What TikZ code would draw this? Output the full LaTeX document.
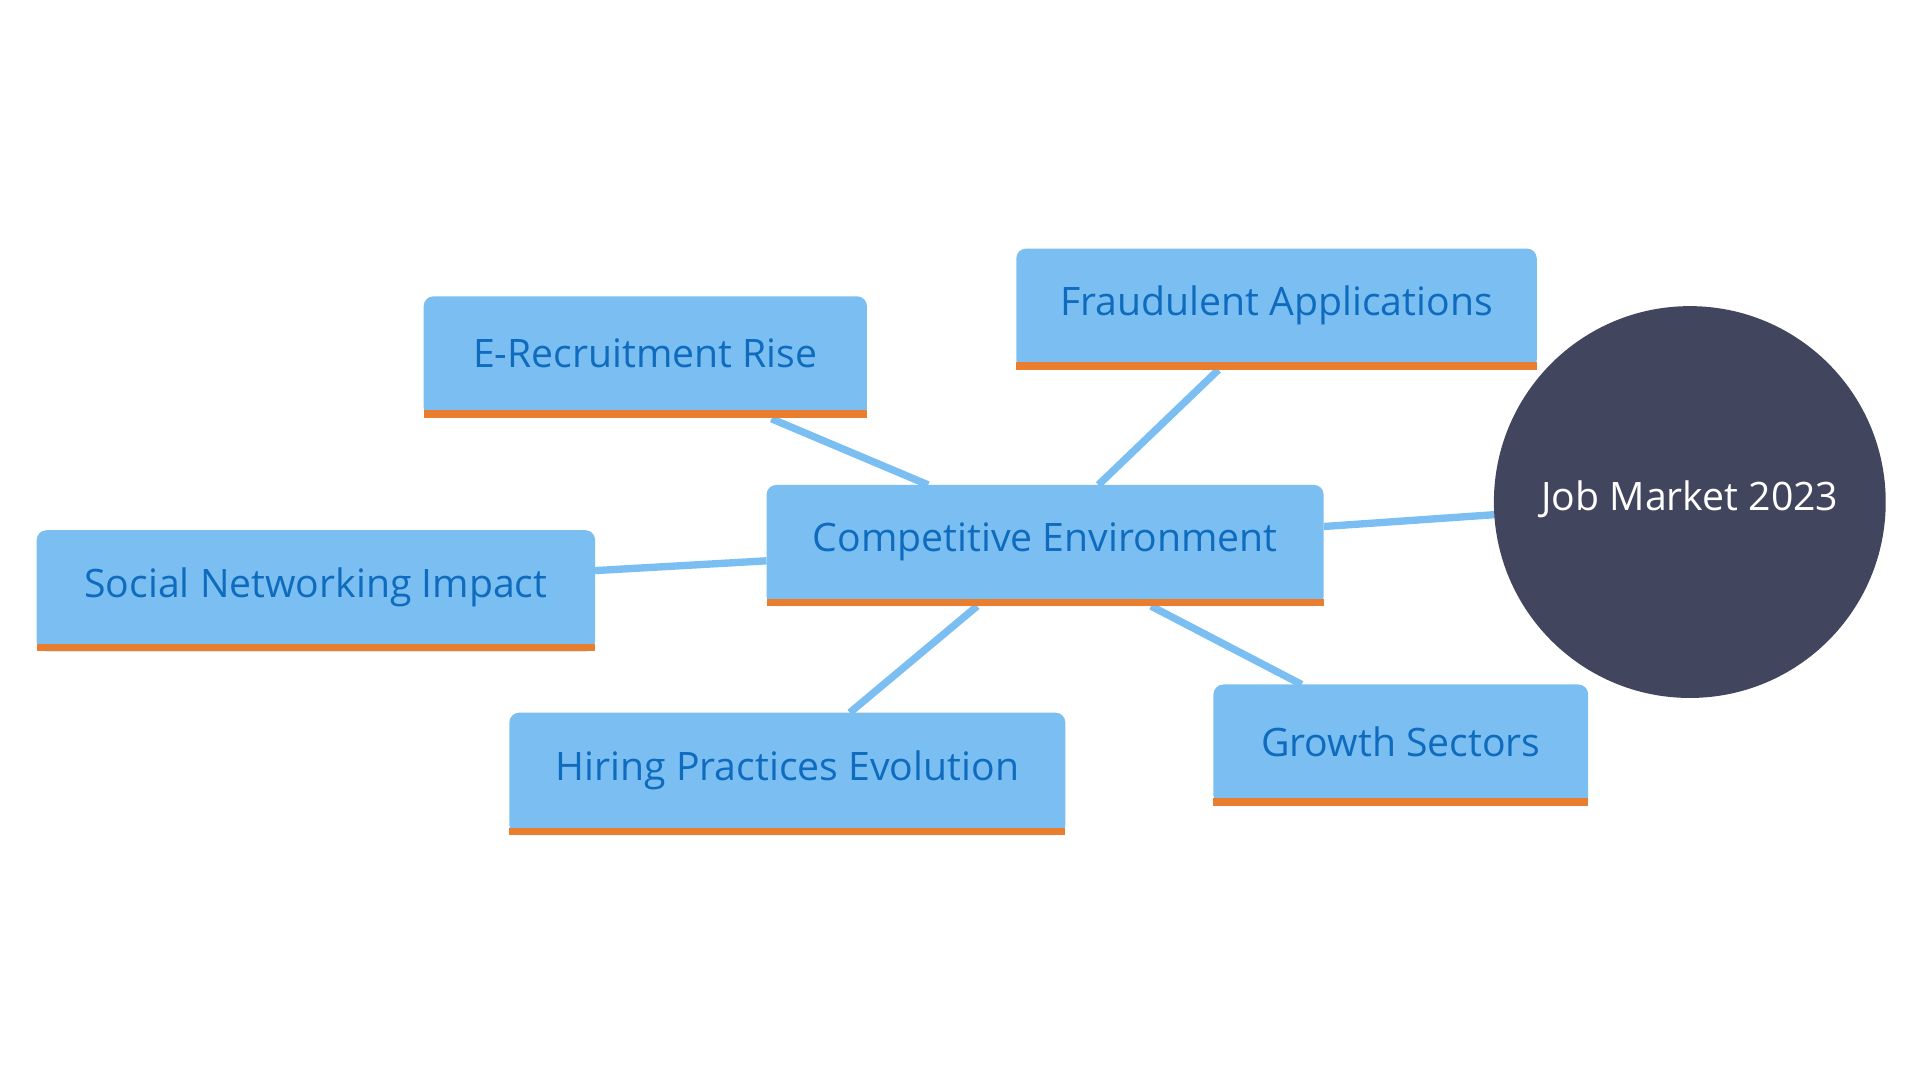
\documentclass[tikz,border=0pt]{standalone}
\usepackage{fontspec}
\setmainfont{Open Sans}
\begin{document}
\begin{tikzpicture}[x=0.5pt,y=-0.5pt,
  box/.style={fill=boxc,rounded corners=4pt},
  bar/.style={fill=orc},
  lab/.style={text=txtc,font=\fontsize{16}{18}\selectfont},
  con/.style={draw=boxc,line width=3pt}]
\definecolor{boxc}{HTML}{7BBFF2}
\definecolor{txtc}{HTML}{0E6BBD}
\definecolor{orc}{HTML}{E87E2E}
\definecolor{circ}{HTML}{41465E}
\useasboundingbox (0,0) rectangle (1568,882);
% connectors
\coordinate (a1) at (630,342); \coordinate (a2) at (758,396);
\coordinate (b1) at (995,302); \coordinate (b2) at (897,396);
\coordinate (c1) at (486,466); \coordinate (c2) at (626,458);
\coordinate (d1) at (694,582); \coordinate (d2) at (798,495);
\coordinate (e1) at (1063,559); \coordinate (e2) at (940,495);
\coordinate (f1) at (1081,430); \coordinate (f2) at (1225,420);
\draw[con] (a1)--(a2); \draw[con] (b1)--(b2); \draw[con] (c1)--(c2);
\draw[con] (d1)--(d2); \draw[con] (e1)--(e2); \draw[con] (f1)--(f2);
% boxes
\newcommand{\mybox}[6]{%
 \fill[box] (#1,#2) rectangle (#3,#4);
 \fill[bar] (#1,#4-6) rectangle (#3,#4);
 \node[lab] (#5) at ({(#1+#3)/2},{(#2+#4)/2-3}) {#6};}
\mybox{346}{242}{708}{341}{erec}{E-Recruitment Rise}
\mybox{830}{203}{1255}{302}{fraud}{Fraudulent Applications}
\mybox{626}{396}{1081}{495}{comp}{Competitive Environment}
\mybox{30}{433}{486}{532}{soc}{Social Networking Impact}
\mybox{416}{582}{870}{682}{hire}{Hiring Practices Evolution}
\mybox{991}{559}{1297}{658}{grow}{Growth Sectors}
\fill[circ] (1380,410) circle (80pt);
\node[text=white,font=\fontsize{16}{18}\selectfont] (job) at (1380,408) {Job Market 2023};
\end{tikzpicture}
\end{document}
